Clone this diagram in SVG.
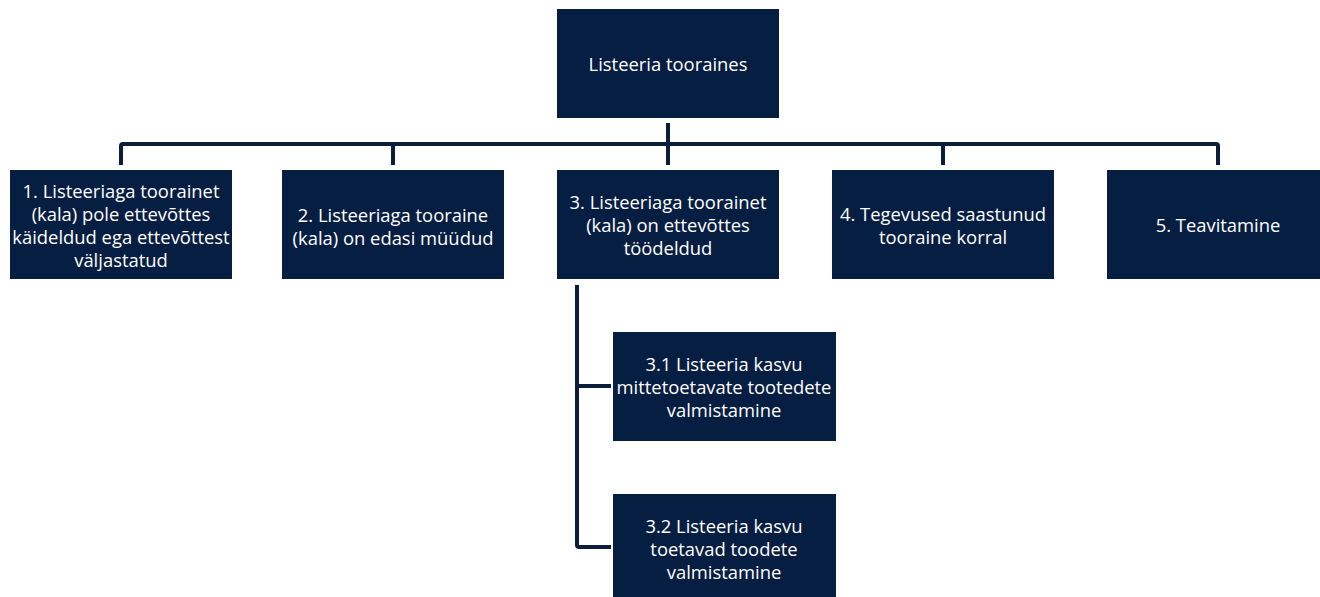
<svg xmlns="http://www.w3.org/2000/svg" width="1320" height="597" viewBox="0 0 1320 597">
<style>
.box{fill:#061e41;}
.t{fill:#ffffff;font-family:"Open Sans",Lato,"Liberation Sans",sans-serif;font-size:18.4px;text-anchor:middle;dominant-baseline:central;}
.c{fill:none;stroke:#0a1d3a;stroke-width:4;stroke-linejoin:round;stroke-linecap:butt;}
</style>
<rect width="1320" height="597" fill="#ffffff"/>
<g id="connectors">
<path class="c" d="M668,123 V165"/>
<path class="c" d="M121,165 V146 Q121,144 123,144 H1216 Q1218,144 1218,146 V165"/>
<path class="c" d="M393,144 V165"/>
<path class="c" d="M943,144 V165"/>
<path class="c" d="M577,285 V545 Q577,547 579,547 H611"/>
<path class="c" d="M577,386 H611"/>
</g>
<g id="n0"><rect class="box" x="557" y="9" width="222" height="109"/><text class="t" x="668" y="63">Listeeria tooraines</text></g>
<g id="n1"><rect class="box" x="10" y="170" width="222" height="109"/><text class="t" x="121"><tspan x="121" y="190">1. Listeeriaga toorainet</tspan><tspan x="121" y="213">(kala) pole ettevõttes</tspan><tspan x="121" y="236">käideldud ega ettevõttest</tspan><tspan x="121" y="259">väljastatud</tspan></text></g>
<g id="n2"><rect class="box" x="282" y="170" width="222" height="109"/><text class="t" x="393"><tspan x="393" y="214">2. Listeeriaga tooraine</tspan><tspan x="393" y="237">(kala) on edasi müüdud</tspan></text></g>
<g id="n3"><rect class="box" x="557" y="170" width="222" height="109"/><text class="t" x="668"><tspan x="668" y="201">3. Listeeriaga toorainet</tspan><tspan x="668" y="224">(kala) on ettevõttes</tspan><tspan x="668" y="247">töödeldud</tspan></text></g>
<g id="n4"><rect class="box" x="832" y="170" width="222" height="109"/><text class="t" x="943"><tspan x="943" y="213">4. Tegevused saastunud</tspan><tspan x="943" y="236">tooraine korral</tspan></text></g>
<g id="n5"><rect class="box" x="1107" y="170" width="222" height="109"/><text class="t" x="1218" y="224">5. Teavitamine</text></g>
<g id="n31"><rect class="box" x="613" y="332" width="223" height="109"/><text class="t" x="724"><tspan x="724" y="363">3.1 Listeeria kasvu</tspan><tspan x="724" y="386">mittetoetavate tootedete</tspan><tspan x="724" y="409">valmistamine</tspan></text></g>
<g id="n32"><rect class="box" x="613" y="494" width="223" height="109"/><text class="t" x="724"><tspan x="724" y="525">3.2 Listeeria kasvu</tspan><tspan x="724" y="548">toetavad toodete</tspan><tspan x="724" y="571">valmistamine</tspan></text></g>
</svg>
